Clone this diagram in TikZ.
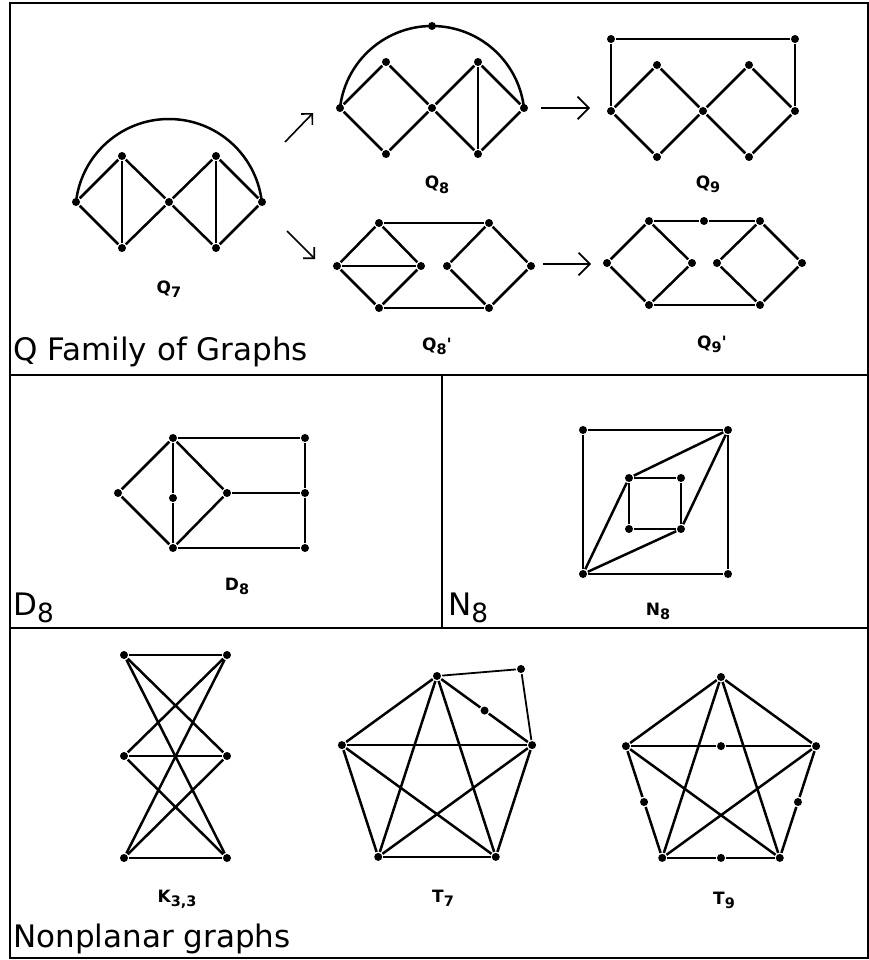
\documentclass[tikz,border=0pt]{standalone}
\usepackage{fontspec}
\setmainfont{DejaVu Sans}
\usetikzlibrary{arrows.meta,calc}

\newcommand{\lsub}[1]{\raisebox{-0.25em}{\scalebox{0.85}{#1}}}

\begin{document}
\begin{tikzpicture}[x=1pt,y=1pt,line width=2.5pt,
  dot/.style={circle,fill,inner sep=0pt,minimum size=8pt},
  lbl/.style={font=\fontsize{17}{20}\selectfont\bfseries,anchor=base},
  bigtitle/.style={font=\fontsize{31}{36}\selectfont,anchor=base west,inner sep=0pt},
  arr/.style={line width=1.6pt,-{Straight Barb[angle=90:#1,line width=1.6pt]}}]
\useasboundingbox (0,0) rectangle (869,-960);
\draw[line width=2pt] (10,-3) rectangle (868,-958);
\draw[line width=2pt] (10,-375) -- (868,-375) (10,-628) -- (868,-628) (442,-375) -- (442,-628);

% Q family
\foreach \n/\x/\y in {l/76/202,t1/122/156,b1/122/248,c/169/202,t2/216/156,b2/216/248,r/262/202}
  \node[dot] (q7\n) at (\x,-\y) {};
\foreach \a/\b in {l/t1,t1/c,c/b1,b1/l,t1/b1,c/t2,t2/r,r/b2,b2/c,t2/b2}
  \draw (q7\a) -- (q7\b);
\draw (q7l.center) arc[start angle=173.55,end angle=6.45,radius=93.5];
\node[lbl] (q7lbl) at (169,-293) {Q\lsub{7}};

\foreach \n/\x/\y in {l/340/108,t1/386/62,b1/386/154,c/432/108,t2/478/62,b2/478/154,r/524/108,a/432/26}
  \node[dot] (q8\n) at (\x,-\y) {};
\foreach \a/\b in {l/t1,t1/c,c/b1,b1/l,c/t2,t2/r,r/b2,b2/c,t2/b2}
  \draw (q8\a) -- (q8\b);
\draw (q8l.center) arc[start angle=173.43,end angle=6.57,radius=92.6];
\node[lbl] (q8lbl) at (437,-189) {Q\lsub{8}};

\foreach \n/\x/\y in {l/611/111,t1/657/65,b1/657/157,c/703/111,t2/749/65,b2/749/157,r/795/111,tl/611/39,tr/795/39}
  \node[dot] (q9\n) at (\x,-\y) {};
\foreach \a/\b in {l/t1,t1/c,c/b1,b1/l,c/t2,t2/r,r/b2,b2/c,l/tl,tl/tr,tr/r}
  \draw (q9\a) -- (q9\b);
\node[lbl] (q9lbl) at (708,-188) {Q\lsub{9}};

\foreach \n/\x/\y in {ll/337/266,lt/379/223,lr/421/266,lb/379/308,rl/447/266,rt/489/223,rr/531/266,rb/489/308}
  \node[dot] (p8\n) at (\x,-\y) {};
\foreach \a/\b in {ll/lt,lt/lr,lr/lb,lb/ll,ll/lr,rl/rt,rt/rr,rr/rb,rb/rl,lt/rt,lb/rb}
  \draw (p8\a) -- (p8\b);
\node[lbl] (p8lbl) at (437,-350) {Q\lsub{8}\textquotesingle};

\foreach \n/\x/\y in {ll/607/263,lt/649/221,lr/692/263,lb/649/305,rl/717/263,rt/760/221,rr/802/263,rb/760/305,m/704/221}
  \node[dot] (p9\n) at (\x,-\y) {};
\foreach \a/\b in {ll/lt,lt/lr,lr/lb,lb/ll,rl/rt,rt/rr,rr/rb,rb/rl,lt/m,m/rt,lb/rb}
  \draw (p9\a) -- (p9\b);
\node[lbl] (p9lbl) at (712,-348) {Q\lsub{9}\textquotesingle};

\coordinate (ua) at (285,-142); \coordinate (ub) at (313,-113);
\coordinate (da) at (287,-231); \coordinate (db) at (315,-259);
\coordinate (ha) at (541,-108); \coordinate (hb) at (590,-108);
\coordinate (ka) at (543,-264); \coordinate (kb) at (591,-264);
\draw[arr=11pt] (ua) -- (ub);
\draw[arr=11pt] (da) -- (db);
\draw[arr=16pt] (ha) -- (hb);
\draw[arr=16pt] (ka) -- (kb);
\node[bigtitle] (qtitle) at (12,-360) {Q Family of Graphs};

% D8
\foreach \n/\x/\y in {l/118/493,t/173/438,b/173/548,m/173/498,r/227/493,tr/305/438,mr/305/493,br/305/548}
  \node[dot] (d\n) at (\x,-\y) {};
\foreach \a/\b in {l/t,t/r,r/b,b/l,t/m,m/b,t/tr,r/mr,b/br,tr/mr,mr/br}
  \draw (d\a) -- (d\b);
\node[lbl] (dlbl) at (237,-590) {D\lsub{8}};
\node[bigtitle] (dtitle) at (12,-615) {D\lsub{8}};

% N8
\foreach \n/\x/\y in {o1/583/430,o2/728/430,o3/728/574,o4/583/574,i1/629/478,i2/681/478,i3/681/529,i4/629/529}
  \node[dot] (n\n) at (\x,-\y) {};
\foreach \a/\b in {o1/o2,o2/o3,o3/o4,o4/o1,i1/i2,i2/i3,i3/i4,i4/i1,o4/i1,i1/o2,o2/i3,i3/o4}
  \draw (n\a) -- (n\b);
\node[lbl] (nlbl) at (658,-615) {N\lsub{8}};
\node[bigtitle] (ntitle) at (447,-615) {N\lsub{8}};

% nonplanar
\foreach \i/\y in {1/655,2/756,3/858} {
  \node[dot] (ka\i) at (124,-\y) {};
  \node[dot] (kb\i) at (227,-\y) {};
}
\foreach \i in {1,2,3}
  \foreach \j in {1,2,3}
    \draw (ka\i) -- (kb\j);
\node[lbl] (klbl) at (177,-902) {K\lsub{3,3}};

\foreach \i/\a in {1/90,2/162,3/234,4/306,5/18} {
  \node[dot] (s\i) at ($(437,-776)+(\a:100)$) {};
  \node[dot] (t\i) at ($(721,-777)+(\a:100)$) {};
}
\node[dot] (sx) at (521,-669) {};
\node[dot] (sm) at ($(s1)!0.5!(s5)$) {};
\foreach \a/\b in {1/2,1/3,1/4,2/3,2/4,2/5,3/4,3/5,4/5}
  \draw (s\a) -- (s\b);
\draw (s1) -- (sm) -- (s5);
\draw[line width=1.8pt] (s1) -- (sx) -- (s5);
\node[lbl] (slbl) at (443,-902) {T\lsub{7}};

\node[dot] (tm25) at ($(t2)!0.5!(t5)$) {};
\node[dot] (tm23) at ($(t2)!0.5!(t3)$) {};
\node[dot] (tm45) at ($(t4)!0.5!(t5)$) {};
\node[dot] (tm34) at ($(t3)!0.5!(t4)$) {};
\foreach \a/\b in {1/2,1/3,1/4,1/5,2/4,3/5}
  \draw (t\a) -- (t\b);
\draw (t2) -- (tm25) -- (t5);
\draw (t2) -- (tm23) -- (t3);
\draw (t4) -- (tm45) -- (t5);
\draw (t3) -- (tm34) -- (t4);
\node[lbl] (tlbl) at (724,-904) {T\lsub{9}};
\node[bigtitle] (ktitle) at (12,-947) {Nonplanar graphs};
\end{tikzpicture}
\end{document}
